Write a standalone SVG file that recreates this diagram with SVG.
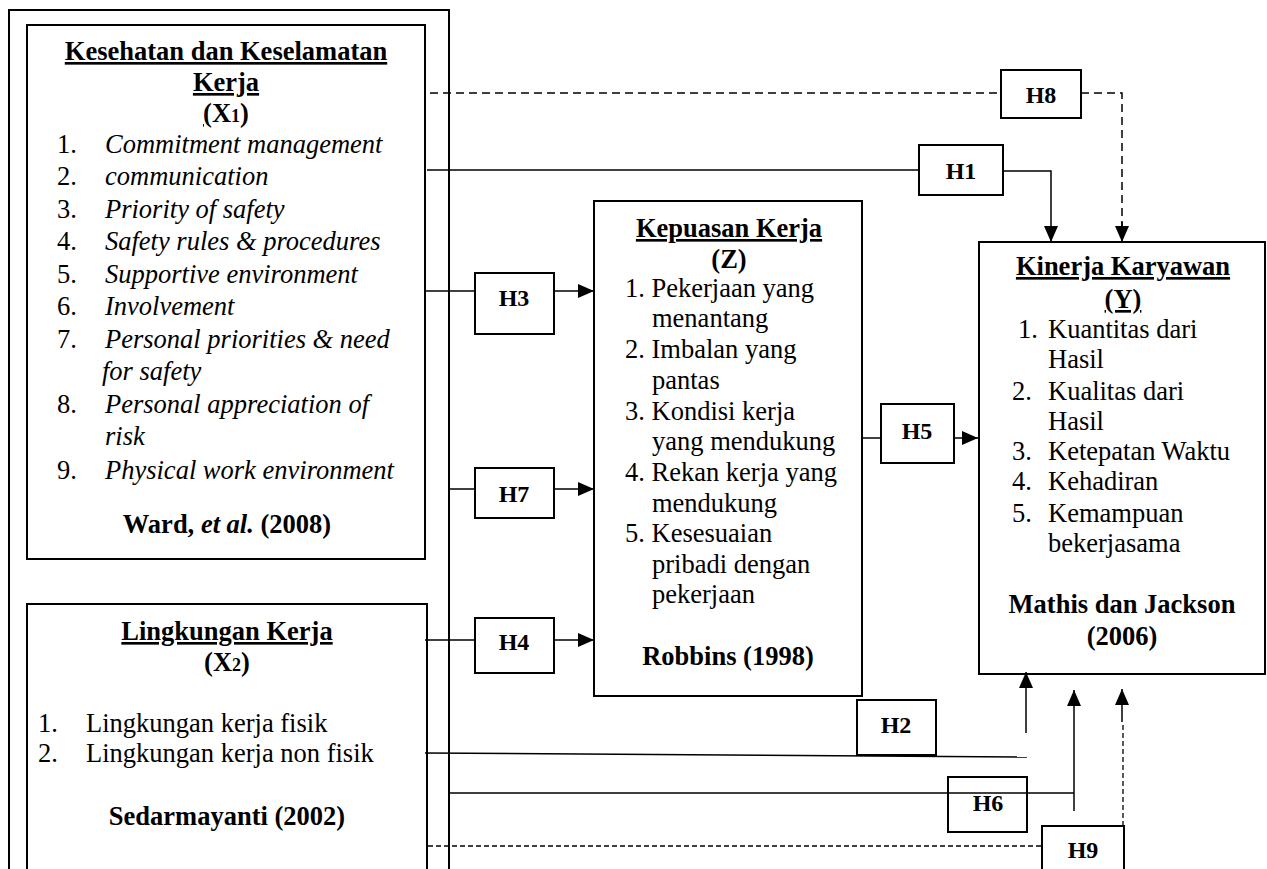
<svg xmlns="http://www.w3.org/2000/svg" width="1267" height="869" viewBox="0 0 1267 869">
<style>
.box{fill:none;stroke:#000;stroke-width:2}
.hbox{fill:none;stroke:#000;stroke-width:2}
.ln{fill:none;stroke:#000;stroke-width:1.5}
.dash{fill:none;stroke:#000;stroke-width:1.5;stroke-dasharray:8 5}
.dash2{fill:none;stroke:#000;stroke-width:1.3;stroke-dasharray:5 3}
text{font-family:"Liberation Serif","Times New Roman",serif;font-size:26.5px;fill:#000}
.b{font-weight:bold}
.i{font-style:italic}
.c{text-anchor:middle}
.u{text-decoration:underline}
.h{font-size:24px;font-weight:bold;text-anchor:middle}
</style>
<defs>
<marker id="ah" viewBox="0 0 16 14" refX="16" refY="7" markerWidth="16" markerHeight="14" markerUnits="userSpaceOnUse" orient="auto">
<path d="M0,0 L16,7 L0,14 Z" fill="#000"/>
</marker>
</defs>
<rect width="1267" height="869" fill="#fff"/>

<g id="outer">
<rect x="9" y="10" width="440" height="880" class="box"/>
</g>

<g id="x1">
<rect x="27" y="25" width="398" height="534" class="box"/>
<text x="226" y="60" class="b c u">Kesehatan dan Keselamatan</text>
<text x="226" y="91" class="b c u">Kerja</text>
<text x="226" y="122" class="b c"><tspan class="u">(</tspan>X<tspan font-size="18">1</tspan>)</text>
<text x="57" y="153">1.</text><text x="105" y="153" class="i">Commitment management</text>
<text x="57" y="185">2.</text><text x="105" y="185" class="i">communication</text>
<text x="57" y="218">3.</text><text x="105" y="218" class="i">Priority of safety</text>
<text x="57" y="250">4.</text><text x="105" y="250" class="i">Safety rules &amp; procedures</text>
<text x="57" y="283">5.</text><text x="105" y="283" class="i">Supportive environment</text>
<text x="57" y="315">6.</text><text x="105" y="315" class="i">Involvement</text>
<text x="57" y="348">7.</text><text x="105" y="348" class="i">Personal priorities &amp; need</text>
<text x="102" y="380" class="i">for safety</text>
<text x="57" y="413">8.</text><text x="105" y="413" class="i">Personal appreciation of</text>
<text x="105" y="445" class="i">risk</text>
<text x="57" y="479">9.</text><text x="105" y="479" class="i">Physical work environment</text>
<text x="227" y="533" class="b c">Ward, <tspan class="i">et al.</tspan> (2008)</text>
</g>

<g id="x2">
<rect x="27" y="604" width="400" height="290" class="box"/>
<text x="227" y="640" class="b c u">Lingkungan Kerja</text>
<text x="227" y="671" class="b c">(X<tspan font-size="18">2</tspan>)</text>
<text x="38" y="732">1.</text><text x="86" y="732">Lingkungan kerja fisik</text>
<text x="38" y="762">2.</text><text x="86" y="762">Lingkungan kerja non fisik</text>
<text x="227" y="825" class="b c">Sedarmayanti (2002)</text>
</g>

<g id="z">
<rect x="594" y="201" width="268" height="495" class="box" stroke-width="1.5"/>
<text x="729" y="237" class="b c u">Kepuasan Kerja</text>
<text x="729" y="268" class="b c">(Z)</text>
<text x="625" y="297">1. Pekerjaan yang</text>
<text x="652" y="327">menantang</text>
<text x="625" y="358">2. Imbalan yang</text>
<text x="652" y="389">pantas</text>
<text x="625" y="420">3. Kondisi kerja</text>
<text x="652" y="450">yang mendukung</text>
<text x="625" y="481">4. Rekan kerja yang</text>
<text x="652" y="512">mendukung</text>
<text x="625" y="542">5. Kesesuaian</text>
<text x="652" y="573">pribadi dengan</text>
<text x="652" y="603">pekerjaan</text>
<text x="728" y="665" class="b c">Robbins (1998)</text>
</g>

<g id="y">
<rect x="979" y="242" width="286" height="432" class="box" stroke-width="1.5"/>
<text x="1123" y="275" class="b c u">Kinerja Karyawan</text>
<text x="1123" y="308" class="b c u">(Y)</text>
<text x="1018" y="338">1.</text><text x="1048" y="338">Kuantitas dari</text>
<text x="1048" y="368">Hasil</text>
<text x="1012" y="400">2.</text><text x="1048" y="400">Kualitas dari</text>
<text x="1048" y="430">Hasil</text>
<text x="1012" y="460">3.</text><text x="1048" y="460">Ketepatan Waktu</text>
<text x="1012" y="490">4.</text><text x="1048" y="490">Kehadiran</text>
<text x="1012" y="522">5.</text><text x="1048" y="522">Kemampuan</text>
<text x="1048" y="552">bekerjasama</text>
<text x="1122" y="613" class="b c">Mathis dan Jackson</text>
<text x="1122" y="645" class="b c">(2006)</text>
</g>

<g id="h8"><rect x="1001" y="70" width="80" height="48" class="hbox"/><text x="1041" y="103" class="h">H8</text></g>
<g id="h1"><rect x="919" y="145" width="84" height="50" class="hbox"/><text x="961" y="179" class="h">H1</text></g>
<g id="h3"><rect x="475" y="273" width="79" height="61" class="hbox"/><text x="514" y="306" class="h">H3</text></g>
<g id="h7"><rect x="475" y="468" width="79" height="50" class="hbox"/><text x="514" y="502" class="h">H7</text></g>
<g id="h4"><rect x="475" y="618" width="79" height="55" class="hbox"/><text x="514" y="650" class="h">H4</text></g>
<g id="h5"><rect x="881" y="404" width="73" height="59" class="hbox"/><text x="917" y="439" class="h">H5</text></g>
<g id="h2"><rect x="857" y="700" width="79" height="55" class="hbox"/><text x="896" y="733" class="h">H2</text></g>
<g id="h6"><rect x="948" y="777" width="79" height="55" class="hbox"/><text x="988" y="811" class="h">H6</text></g>
<g id="h9"><rect x="1042" y="826" width="82" height="60" class="hbox"/><text x="1083" y="858" class="h">H9</text></g>

<g id="connectors">
<path d="M430,93 H1001" class="dash"/>
<path d="M1081,93 H1122 V226" class="dash"/>
<path d="M1122,222 V242" class="ln" marker-end="url(#ah)"/>
<path d="M427,170 H919" class="ln"/>
<path d="M1003,171 H1051 V242" class="ln" marker-end="url(#ah)"/>
<path d="M425,291 H475" class="ln"/>
<path d="M554,291 H594" class="ln" marker-end="url(#ah)"/>
<path d="M450,489 H475" class="ln"/>
<path d="M554,489 H594" class="ln" marker-end="url(#ah)"/>
<path d="M425,640 H475" class="ln"/>
<path d="M554,640 H594" class="ln" marker-end="url(#ah)"/>
<path d="M862,438 H881" class="ln"/>
<path d="M954,438 H978" class="ln" marker-end="url(#ah)"/>
<path d="M425,753 L1027,757" class="ln"/>
<path d="M1026,733 V672" class="ln" marker-end="url(#ah)"/>
<path d="M449,793 H1074" class="ln"/>
<path d="M1074,811 V690" class="ln" marker-end="url(#ah)"/>
<path d="M428,846 H1042" class="dash2"/>
<path d="M1123,826 V722" class="dash2"/>
<path d="M1122,722 V689" class="ln" marker-end="url(#ah)"/>
</g>
</svg>
